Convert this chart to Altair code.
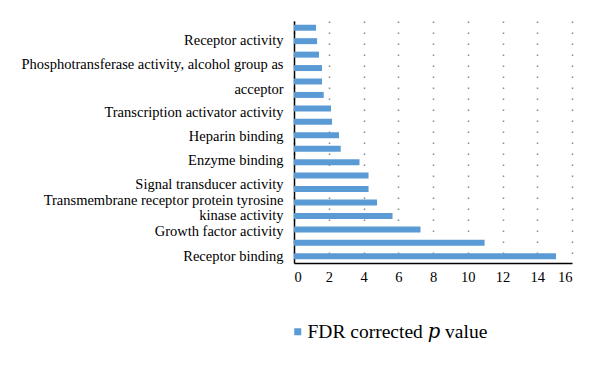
import altair as alt
import pandas as pd

# bar values, bottom (index 0) to top
values = [15.08, 10.97, 7.28, 5.67, 4.78, 4.29, 4.29, 3.77, 2.69,
          2.59, 2.19, 2.13, 1.71, 1.61, 1.61, 1.44, 1.33, 1.27]
series_name = "FDR corrected \U0001D45D value"

# category label ticks (position on the category index axis) and their text
label_pos = [0, 1.83, 3.02, 4.14, 5.36, 7.09, 8.88, 10.68, 12.42, 14.28, 16.02]
label_text = ["Receptor binding", "Growth factor activity", "kinase activity",
              "Transmembrane receptor protein tyrosine", "Signal transducer activity",
              "Enzyme binding", "Heparin binding", "Transcription activator activity",
              "acceptor", "Phosphotransferase activity, alcohol group as",
              "Receptor activity"]
x_ticks = [0, 2, 4, 6, 8, 10, 12, 14, 16]

df = pd.DataFrame({"idx": list(range(len(values))), "value": values,
                   "series": [series_name] * len(values)})

expr = "''"
for p, t in reversed(list(zip(label_pos, label_text))):
    expr = f"datum.value == {p} ? '{t}' : ({expr})"

font = "Liberation Serif, DejaVu Serif, serif"

chart = alt.Chart(df).mark_bar(size=6, orient="horizontal").encode(
    x=alt.X("value:Q", scale=alt.Scale(domain=[0, 16], nice=False, padding=0),
            axis=alt.Axis(values=x_ticks, title=None, ticks=False, grid=True,
                          gridColor="#888", gridDash=[1.5, 9.5], gridWidth=1.5,
                          domainColor="black", domainWidth=1.5,
                          labelFont=font, labelFontSize=14.5, labelColor="black",
                          labelPadding=7, labelOverlap=False)),
    y=alt.Y("idx:Q", scale=alt.Scale(domain=[-0.5, 17.5], nice=False, zero=False, padding=0),
            axis=alt.Axis(values=label_pos, labelExpr=expr, title=None, ticks=False,
                          grid=False, domainColor="black", domainWidth=1.5,
                          labelFont=font, labelFontSize=14.5, labelColor="black",
                          labelPadding=11, labelOverlap=False, labelLimit=400,
                          labelBound=False, labelFlush=False)),
    color=alt.Color("series:N", scale=alt.Scale(range=["#5B9BD5"]),
                    legend=alt.Legend(title=None, orient="none", legendX=-12, legendY=301,
                                      symbolType="square", symbolSize=49, symbolOffset=6,
                                      symbolStrokeWidth=0, labelFont=font,
                                      labelFontSize=19.5, labelColor="black",
                                      padding=0, labelOffset=0, labelLimit=400)),
).properties(
    width=278, height=242,
    autosize=alt.AutoSizeParams(type="none"),
    padding={"left": 286, "top": 13, "right": 20, "bottom": 95},
).configure_view(stroke=None)

chart.save("out.html", embed_options={"renderer": "svg", "actions": False})
